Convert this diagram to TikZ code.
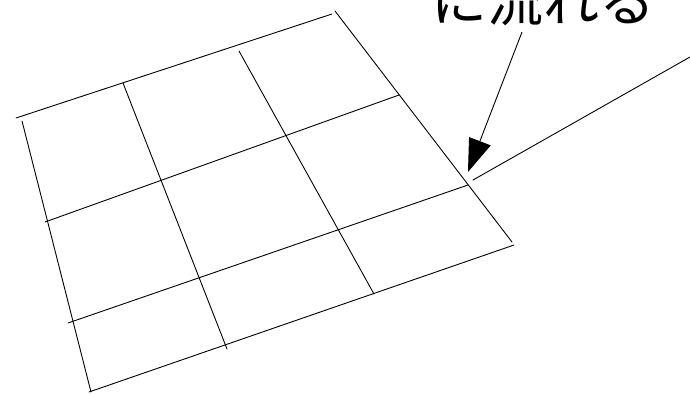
\documentclass[tikz,border=0pt]{standalone}
\usepackage{fontspec}
\newfontfamily\jpfont{Noto Sans CJK JP}
\usetikzlibrary{arrows.meta}
\begin{document}
\begin{tikzpicture}[x=1pt,y=-1pt,
  gridline/.style={line width=0.9pt,line cap=round},
  pointer/.style={line width=0.9pt,-{Triangle[length=33pt,width=23pt]}},
  label/.style={font=\jpfont\fontsize{56pt}{62pt}\selectfont,inner sep=0pt,anchor=base}]
\useasboundingbox (0,0) rectangle (690,394);
% grid lines
\coordinate (h1a) at (16,118);  \coordinate (h1b) at (332,14);
\coordinate (h2a) at (45,222);  \coordinate (h2b) at (399,95);
\coordinate (h3a) at (68,323);  \coordinate (h3b) at (468,185);
\coordinate (h4a) at (89,392);  \coordinate (h4b) at (514,245);
\coordinate (v1a) at (22,121);  \coordinate (v1b) at (91,392);
\coordinate (v2a) at (123,83);  \coordinate (v2b) at (227,349);
\coordinate (v3a) at (239,51);  \coordinate (v3b) at (374,294);
\coordinate (v4a) at (335,11);  \coordinate (v4b) at (512,242);
\draw[gridline] (h1a) -- (h1b);
\draw[gridline] (h2a) -- (h2b);
\draw[gridline] (h3a) -- (h3b);
\draw[gridline] (h4a) -- (h4b);
\draw[gridline] (v1a) -- (v1b);
\draw[gridline] (v2a) -- (v2b);
\draw[gridline] (v3a) -- (v3b);
\draw[gridline] (v4a) -- (v4b);
% label and pointers
\node[label] (txt) at (543,21) {に流れる};
\coordinate (arrs) at (522,32);
\coordinate (arrt) at (468,172);
\draw[pointer] (arrs) -- (arrt);
\coordinate (ls) at (473,180);
\coordinate (le) at (690,57);
\draw[gridline] (ls) -- (le);
\end{tikzpicture}
\end{document}
